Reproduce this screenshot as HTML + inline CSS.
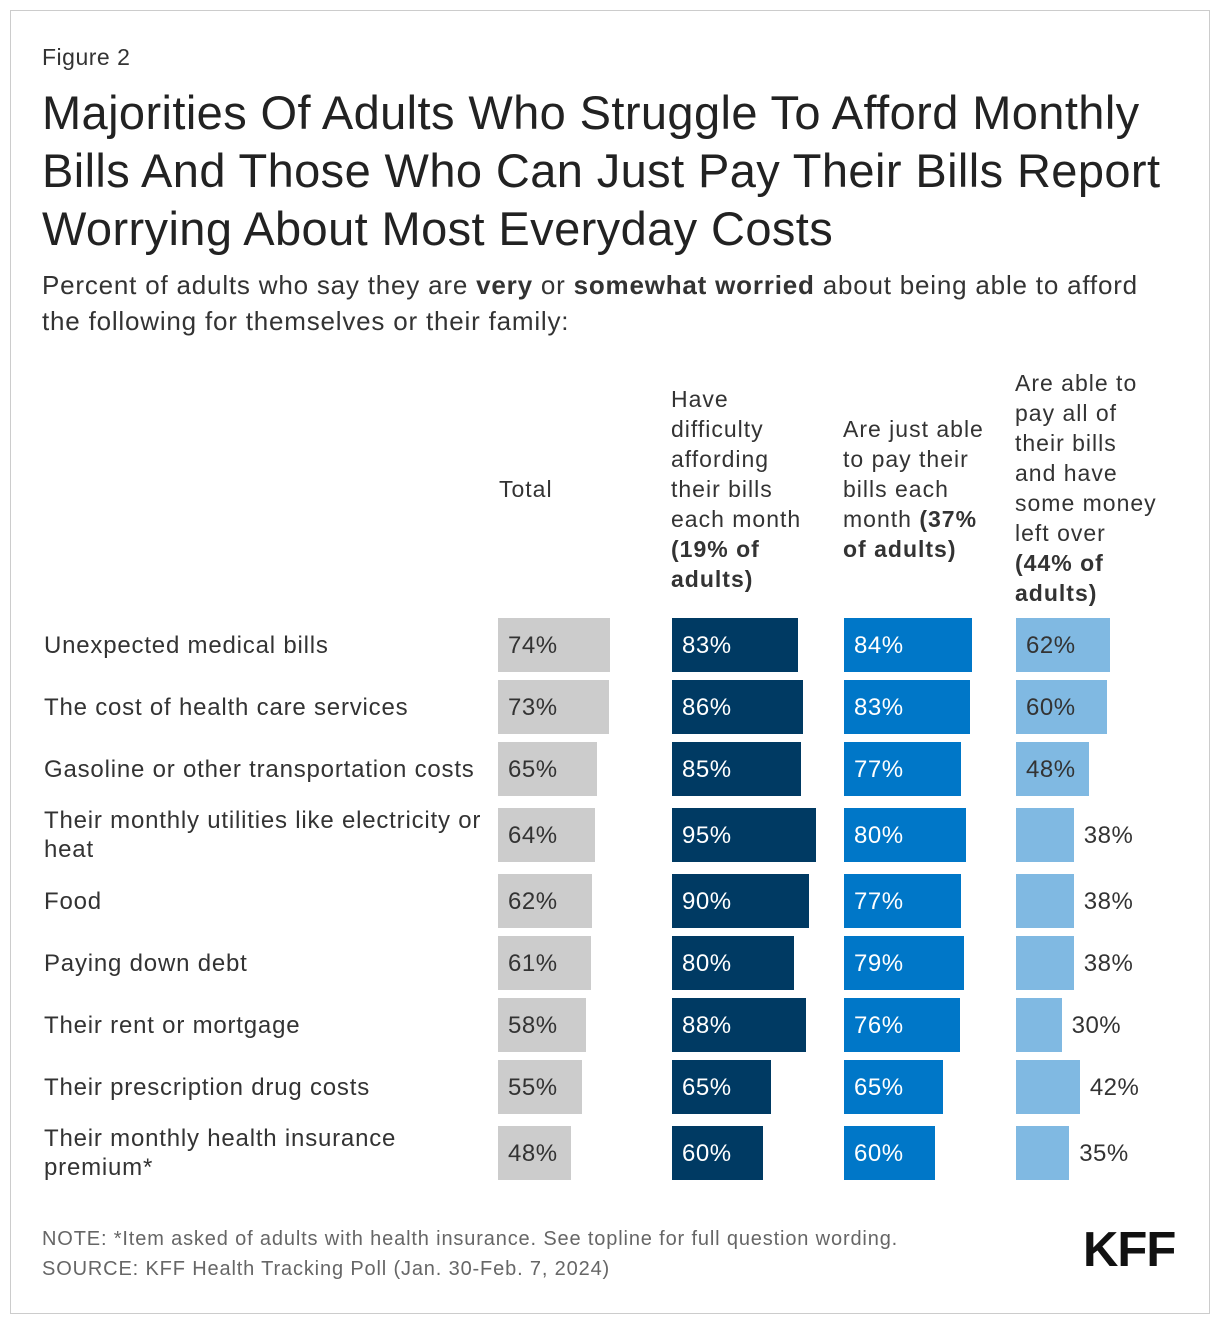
<!DOCTYPE html>
<html><head><meta charset="utf-8"><style>
body{margin:0;width:1220px;height:1326px;background:#fff;font-family:"Liberation Sans",sans-serif;color:#333;position:relative;overflow:hidden}
.frame{position:absolute;left:10px;top:10px;width:1198px;height:1302px;border:1px solid #ccc}
.abs{position:absolute;white-space:nowrap}
.hdr{position:absolute;font-size:23px;line-height:30px;color:#333;letter-spacing:1px;white-space:nowrap}
.lbl{position:absolute;left:44px;width:450px;font-size:24px;line-height:29px;color:#333;display:flex;align-items:center;white-space:pre-line;letter-spacing:0.8px}
.bar{position:absolute;height:54px}
.val{position:absolute;font-size:24px;line-height:54px;letter-spacing:0.5px}
</style></head><body>
<div class="frame"></div>
<div class="abs" style="left:42px;top:44px;font-size:23px;letter-spacing:0.5px">Figure 2</div>
<div class="abs" style="left:42px;top:84px;font-size:47px;line-height:58px;color:#222;letter-spacing:0.4px">Majorities Of Adults Who Struggle To Afford Monthly<br>Bills And Those Who Can Just Pay Their Bills Report<br>Worrying About Most Everyday Costs</div>
<div class="abs" style="left:42px;top:267px;font-size:26px;line-height:36px;letter-spacing:0.8px">Percent of adults who say they are <b>very</b> or <b>somewhat worried</b> about being able to afford<br>the following for themselves or their family:</div>
<div class="hdr" style="left:499px;top:474px">Total</div>
<div class="hdr" style="left:671px;top:384px">Have<br>difficulty<br>affording<br>their bills<br>each month<br><b>(19% of<br>adults)</b></div>
<div class="hdr" style="left:843px;top:414px">Are just able<br>to pay their<br>bills each<br>month <b>(37%<br>of adults)</b></div>
<div class="hdr" style="left:1015px;top:368px">Are able to<br>pay all of<br>their bills<br>and have<br>some money<br>left over<br><b>(44% of<br>adults)</b></div>
<div id="chart"></div>
<div class="abs" style="left:42px;top:1224px;font-size:20px;line-height:30px;color:#666;letter-spacing:0.85px">NOTE: *Item asked of adults with health insurance. See topline for full question wording.<br>SOURCE: KFF Health Tracking Poll (Jan. 30-Feb. 7, 2024)</div>
<div class="abs" style="left:1083px;top:1222px;font-size:49px;font-weight:bold;color:#111;letter-spacing:-1px">KFF</div>
<script>
const categories=["Unexpected medical bills","The cost of health care services","Gasoline or other transportation costs","Their monthly utilities like electricity or\nheat","Food","Paying down debt","Their rent or mortgage","Their prescription drug costs","Their monthly health insurance\npremium*"];
const totalVals=[74,73,65,64,62,61,58,55,48];
const difficultyVals=[83,86,85,95,90,80,88,65,60];
const justAbleVals=[84,83,77,80,77,79,76,65,60];
const moneyLeftVals=[62,60,48,38,38,38,30,42,35];
const rowTops=[618,680,742,808,874,936,998,1060,1126];
const cols=[
 {x:498,vals:totalVals,color:"#cccccc",text:"#333",name:"total"},
 {x:672,vals:difficultyVals,color:"#003a63",text:"#fff",name:"difficulty"},
 {x:844,vals:justAbleVals,color:"#0077c8",text:"#fff",name:"just-able"},
 {x:1016,vals:moneyLeftVals,color:"#80b9e2",text:"#333",name:"money-left"}];
const sx=v=>v*1.52;
const root=document.getElementById('chart');
categories.forEach((c,i)=>{
 const y=rowTops[i];
 const l=document.createElement('div');l.className='lbl';l.style.top=y+'px';l.style.height='54px';l.textContent=c;
 
 
 root.appendChild(l);
 cols.forEach(col=>{
  const v=col.vals[i],w=sx(v);
  const b=document.createElement('div');b.className='bar';
  b.style.cssText+=`left:${col.x}px;top:${y}px;width:${w}px;background:${col.color}`;
  
  
  root.appendChild(b);
  const t=document.createElement('div');t.className='val';t.textContent=v+'%';
  const inside=w>=70;
  t.style.left=(inside?col.x+10:col.x+w+10)+'px';t.style.top=(y+1)+'px';
  t.style.color=inside?col.text:'#333';
  
  
  root.appendChild(t);
 });
});
</script>
</body></html>
